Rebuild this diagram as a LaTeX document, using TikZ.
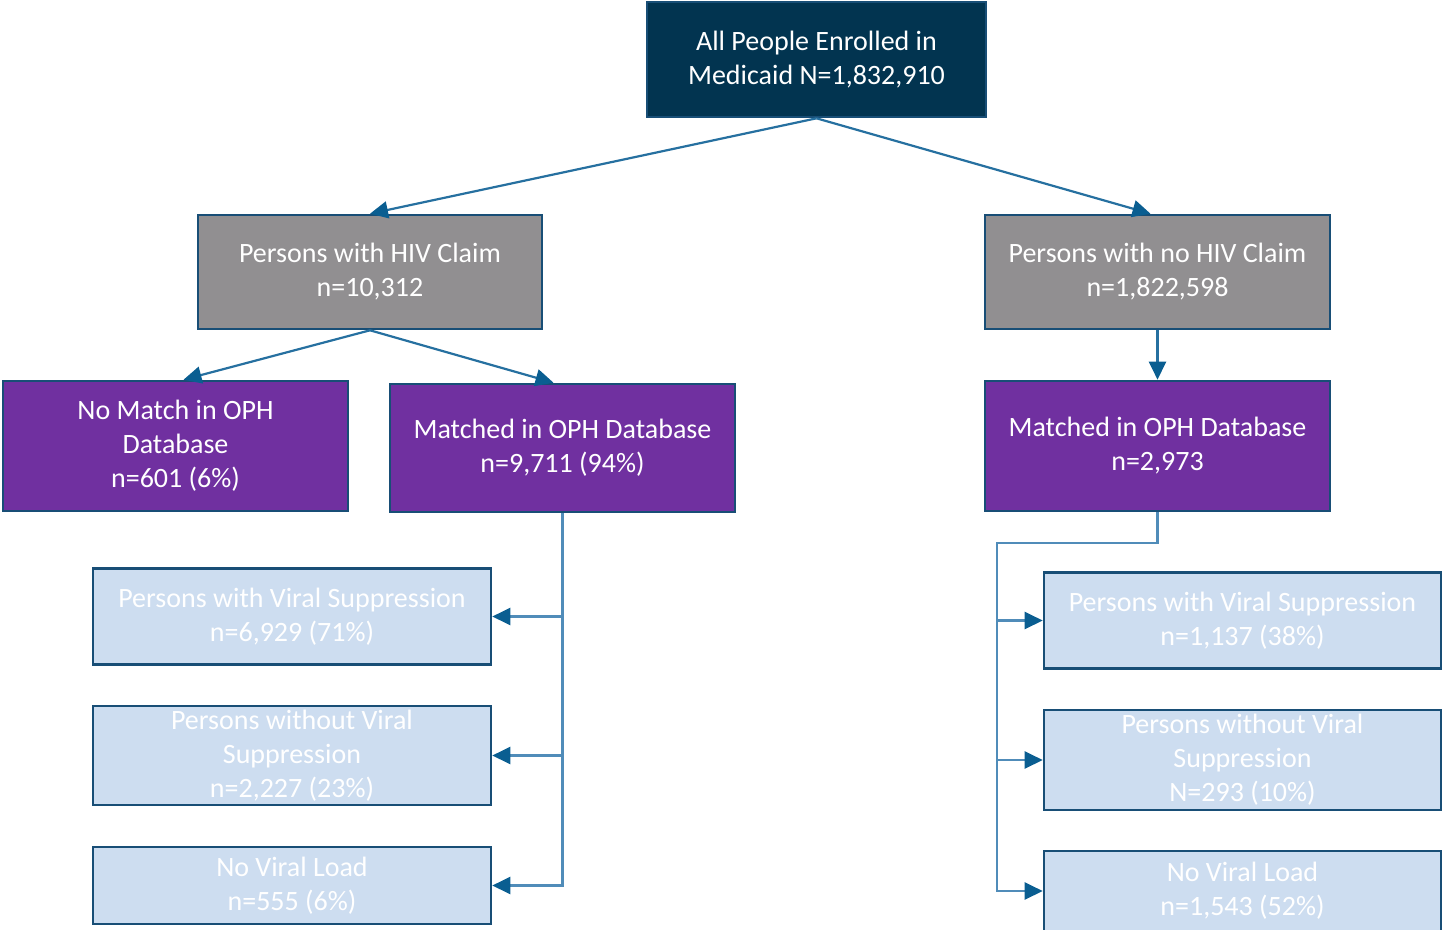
\documentclass[tikz,border=0pt]{standalone}
\usepackage{fontspec}
\setmainfont{Carlito}
\usetikzlibrary{arrows.meta}
\definecolor{navyfill}{RGB}{2,52,80}
\definecolor{grayfill}{RGB}{145,143,145}
\definecolor{purplefill}{RGB}{112,48,160}
\definecolor{lightfill}{RGB}{205,221,240}
\definecolor{boxedge}{RGB}{24,78,118}
\definecolor{linkblue}{RGB}{38,112,160}
\definecolor{elbowblue}{RGB}{80,140,185}
\definecolor{tipblue}{RGB}{10,94,145}
\tikzset{
  basebox/.style={draw=boxedge, line width=2.6pt, inner sep=0pt, align=center,
    text=white, font=\fontsize{28}{34}\selectfont},
  topbox/.style={basebox, fill=navyfill},
  graybox/.style={basebox, fill=grayfill},
  purplebox/.style={basebox, fill=purplefill},
  lightbox/.style={basebox, fill=lightfill},
  tipstyle/.style={-{Triangle[length=18pt,width=17pt,fill=tipblue,color=tipblue]}},
  diag/.style={draw=linkblue, line width=2.2pt, tipstyle},
  elbow/.style={draw=elbowblue, line width=2.2pt, tipstyle},
}
\begin{document}
\begin{tikzpicture}[x=1pt,y=-1pt]
\useasboundingbox (0,0) rectangle (1442,929);
\clip (0,0) rectangle (1442,929);

% top level
\node[topbox, minimum width=339pt, minimum height=115pt] (all) at (816.5,59.5)
  {All People Enrolled in\\Medicaid N=1,832,910};

% claim split
\node[graybox, minimum width=344pt, minimum height=114pt] (hiv) at (370,272)
  {Persons with HIV Claim\\n=10,312};
\node[graybox, minimum width=345pt, minimum height=114pt] (nohiv) at (1157.5,272)
  {Persons with no HIV Claim\\n=1,822,598};

% OPH matching
\node[purplebox, minimum width=345pt, minimum height=130pt] (nomatch) at (175.5,446)
  {No Match in OPH\\Database\\n=601 (6\%)};
\node[purplebox, minimum width=345pt, minimum height=128pt] (matchl) at (562.5,448)
  {Matched in OPH Database\\n=9,711 (94\%)};
\node[purplebox, minimum width=345pt, minimum height=130pt] (matchr) at (1157.5,446)
  {Matched in OPH Database\\n=2,973};

% viral load outcomes, HIV claim branch
\node[lightbox, minimum width=398pt, minimum height=96pt] (la) at (292,616.5)
  {Persons with Viral Suppression\\n=6,929 (71\%)};
\node[lightbox, minimum width=398pt, minimum height=99pt] (lb) at (292,755.5)
  {Persons without Viral\\Suppression\\n=2,227 (23\%)};
\node[lightbox, minimum width=398pt, minimum height=77pt] (lc) at (292,885.5)
  {No Viral Load\\n=555 (6\%)};

% viral load outcomes, no HIV claim branch
\node[lightbox, minimum width=397pt, minimum height=96pt] (ra) at (1242.5,620.5)
  {Persons with Viral Suppression\\n=1,137 (38\%)};
\node[lightbox, minimum width=397pt, minimum height=100pt] (rb) at (1242.5,760)
  {Persons without Viral\\Suppression\\N=293 (10\%)};
\node[lightbox, minimum width=397pt, minimum height=80pt] (rc) at (1242.5,891)
  {No Viral Load\\n=1,543 (52\%)};

% connectors
\draw[diag] (all.south) -- (hiv.north);
\draw[diag] (all.south) -- ([xshift=-7pt]nohiv.north);
\draw[diag] (hiv.south) -- ([xshift=8pt]nomatch.north);
\draw[diag] (hiv.south) -- ([xshift=-9pt]matchl.north);
\draw[diag] (nohiv.south) -- (matchr.north);

\draw[elbow] (matchl.south) |- (la.east);
\draw[elbow] (matchl.south) |- (lb.east);
\draw[elbow] (matchl.south) |- (lc.east);

\coordinate (rbend) at (997,543);
\draw[elbow] (matchr.south) |- (rbend) |- (ra.west);
\draw[elbow] (rbend) |- (rb.west);
\draw[elbow] (rbend) |- (rc.west);
\end{tikzpicture}
\end{document}
